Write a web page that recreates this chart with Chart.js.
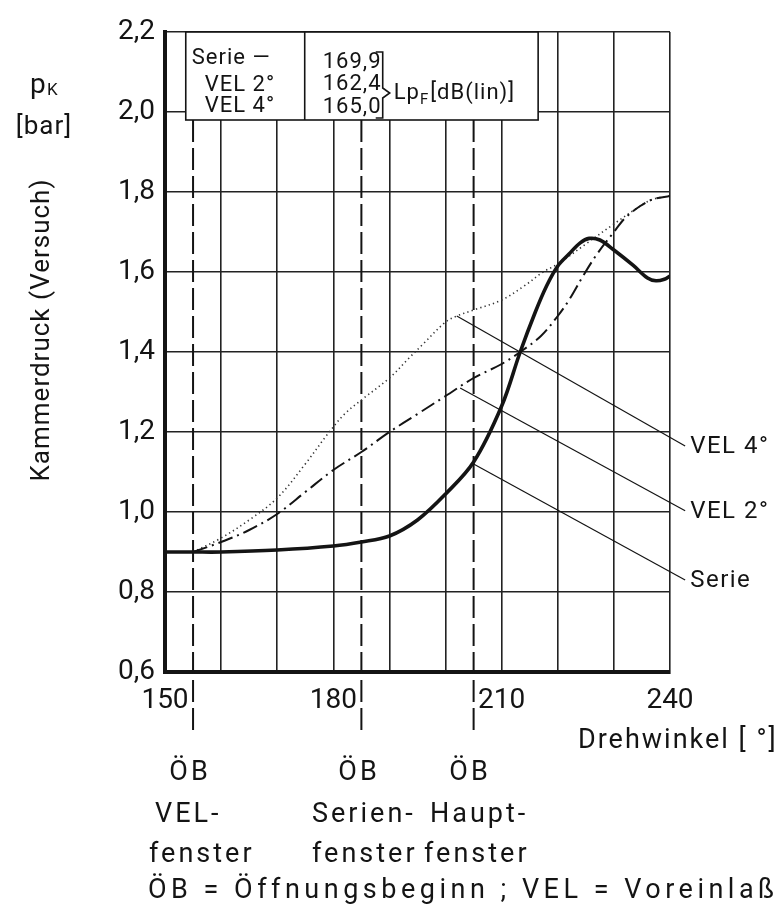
<!DOCTYPE html>
<html><head><meta charset="utf-8">
<script src="https://cdn.jsdelivr.net/npm/chart.js@4"></script>
<style>html,body{margin:0;padding:0;background:#fff;}#wrap{width:784px;height:912px;}</style>
</head><body><div id="wrap"><canvas id="c" width="784" height="912"></canvas></div>
<script>
// ---- data ----
const serieAngles = [150,155,160,170,180,185,190,195,200,205,210,213.3,216,218,220,222,224,225.6,227.5,230,233.4,236,237.5,239,240];
const serieValues = [0.90,0.90,0.90,0.905,0.915,0.925,0.94,0.98,1.045,1.125,1.265,1.40,1.50,1.565,1.615,1.645,1.673,1.684,1.68,1.655,1.617,1.585,1.578,1.582,1.59];
const vel2Angles = [155,160,165,170,175,180,185,190,195,200,205,210,213.3,217,220,222,224.5,227,230,232,234.7,237,240];
const vel2Values = [0.90,0.925,0.955,0.995,1.05,1.105,1.15,1.20,1.245,1.29,1.335,1.37,1.40,1.44,1.49,1.53,1.59,1.645,1.70,1.735,1.765,1.782,1.79];
const vel4Angles = [155,160,165,170,175,179,182,185,190,193.5,196,200,202,205,210,214,217.4,220,225,230,234.7,237,240];
const vel4Values = [0.90,0.935,0.98,1.035,1.12,1.195,1.245,1.28,1.335,1.385,1.42,1.475,1.49,1.505,1.53,1.565,1.60,1.62,1.67,1.72,1.765,1.782,1.79];
const xTickLabels = [150,180,210,240];
const legendNames = ['Serie —','VEL 2°','VEL 4°'];
const legendLevels = ['169,9','162,4','165,0'];
const openingAngles = [155,185,205];
const seriesLabels = ['VEL 4°','VEL 2°','Serie'];
const pointerStarts = [[202,1.49],[202.6,1.31],[205,1.12]];
const pointerEnds = [[242.7,1.165],[242.7,1.003],[242.7,0.83]];

const toPts = (xs, ys) => xs.map((v,i)=>({x:v,y:ys[i]}));
const FONT = 'Roboto';
const INK = '#141414';

const overlay = {
  id:'overlay',
  beforeDatasetsDraw(chart){
    const {ctx, scales:{x,y}} = chart;
    ctx.save();
    // dashed "Öffnungsbeginn" lines
    ctx.strokeStyle = INK; ctx.lineWidth = 2; ctx.setLineDash([22,6]);
    openingAngles.forEach(a=>{
      const px = x.getPixelForValue(a);
      ctx.beginPath(); ctx.moveTo(px, y.getPixelForValue(1.98)); ctx.lineTo(px, y.getPixelForValue(0.447)); ctx.stroke();
    });
    ctx.setLineDash([]);
    // legend box
    const bx0 = x.getPixelForValue(153.7), bx1 = x.getPixelForValue(216.5), bxm = x.getPixelForValue(174.9);
    const by0 = y.getPixelForValue(2.2), by1 = y.getPixelForValue(1.98);
    ctx.fillStyle = '#fff'; ctx.fillRect(bx0, by0, bx1-bx0, by1-by0);
    ctx.lineWidth = 1.6; ctx.strokeRect(bx0, by0, bx1-bx0, by1-by0);
    ctx.beginPath(); ctx.moveTo(bxm, by0); ctx.lineTo(bxm, by1); ctx.stroke();
    ctx.fillStyle = INK; ctx.textBaseline = 'middle'; ctx.textAlign = 'left';
    ctx.font = `22px ${FONT}`; ctx.letterSpacing = '1px';
    const lrows = [26,53,74], lx = [6,19,19];
    legendNames.forEach((t,i)=> ctx.fillText(t, bx0+lx[i], by0+lrows[i]));
    const rrows = [30,52,75];
    legendLevels.forEach((t,i)=> ctx.fillText(t, bxm+18, by0+rrows[i]));
    // brace
    ctx.lineWidth = 1.6;
    ctx.beginPath();
    ctx.moveTo(bxm+71, by0+20); ctx.lineTo(bxm+78, by0+20); ctx.lineTo(bxm+78, by0+56);
    ctx.lineTo(bxm+85, by0+61); ctx.lineTo(bxm+78, by0+66); ctx.lineTo(bxm+78, by0+86); ctx.lineTo(bxm+71, by0+86);
    ctx.stroke();
    let tx = bxm+89;
    ctx.fillText('Lp', tx, by0+61); tx += ctx.measureText('Lp').width;
    ctx.font = `15px ${FONT}`; ctx.fillText('F', tx, by0+68); tx += ctx.measureText('F').width + 1;
    ctx.font = `22px ${FONT}`; ctx.fillText('[dB(lin)]', tx, by0+61);
    ctx.restore();
  },
  afterDatasetsDraw(chart){
    const {ctx, scales:{x,y}} = chart;
    ctx.save();
    ctx.strokeStyle = INK; ctx.lineWidth = 1.2; ctx.fillStyle = INK;
    ctx.font = `24px ${FONT}`; ctx.letterSpacing = '1.5px'; ctx.textBaseline = 'middle'; ctx.textAlign = 'left';
    pointerStarts.forEach((s,i)=>{
      const e = pointerEnds[i];
      const ex = x.getPixelForValue(e[0]), ey = y.getPixelForValue(e[1]);
      ctx.beginPath(); ctx.moveTo(x.getPixelForValue(s[0]), y.getPixelForValue(s[1])); ctx.lineTo(ex, ey); ctx.stroke();
      ctx.fillText(seriesLabels[i], ex+5, ey+1);
    });
    ctx.restore();
  },
  afterDraw(chart){
    const {ctx} = chart;
    ctx.save();
    ctx.fillStyle = INK;
    // y-axis unit
    ctx.textAlign = 'left'; ctx.font = `28px ${FONT}`;
    ctx.textBaseline = 'alphabetic';
    ctx.fillText('p', 30, 93);
    ctx.font = `17px ${FONT}`; ctx.fillText('K', 47, 95);
    ctx.textBaseline = 'middle'; ctx.textAlign = 'center'; ctx.font = `26px ${FONT}`; ctx.letterSpacing = '1px';
    ctx.fillText('[bar]', 44, 127);
    // y-axis title
    ctx.save(); ctx.translate(42, 330); ctx.rotate(-Math.PI/2);
    ctx.font = `26px ${FONT}`; ctx.fillText('Kammerdruck (Versuch)', 0, 0); ctx.restore();
    // x-axis title
    ctx.textAlign = 'left'; ctx.font = `27px ${FONT}`; ctx.letterSpacing = '2px';
    ctx.fillText('Drehwinkel [ °]', 578, 741);
    // bottom notes
    ctx.font = `27px ${FONT}`; ctx.letterSpacing = '3px';
    ctx.textAlign = 'center';
    [190,359,470].forEach(cx=> ctx.fillText('ÖB', cx, 773));
    ctx.textAlign = 'left';
    ctx.fillText('VEL-', 155, 815);
    ctx.fillText('fenster', 149, 855);
    ctx.fillText('Serien-', 312, 815);
    ctx.fillText('Haupt-', 430, 815);
    ctx.fillText('fenster', 312, 855);
    ctx.fillText('fenster', 424, 855);
    ctx.letterSpacing = '4.5px';
    ctx.fillText('ÖB = Öffnungsbeginn ; VEL = Voreinlaß', 148, 891);
    ctx.restore();
  }
};

new Chart(document.getElementById('c'), {
  type:'line',
  data:{ datasets:[
    { label:'Serie', data:toPts(serieAngles, serieValues), borderColor:INK, borderWidth:3.6, pointRadius:0, tension:0.35, fill:false },
    { label:'VEL 2°', data:toPts(vel2Angles, vel2Values), borderColor:INK, borderWidth:2, borderDash:[15,5,2,5], pointRadius:0, tension:0.35, fill:false },
    { label:'VEL 4°', data:toPts(vel4Angles, vel4Values), borderColor:'#333', borderWidth:1.6, borderDash:[1.3,3.2], pointRadius:0, tension:0.35, fill:false }
  ]},
  options:{
    responsive:false, animation:false, devicePixelRatio:1,
    layout:{ padding:{ top:32, right:114, bottom:0, left:0 } },
    plugins:{ legend:{display:false}, tooltip:{enabled:false}, title:{display:false} },
    scales:{
      x:{ type:'linear', min:150, max:240,
        ticks:{ stepSize:10, autoSkip:false, maxRotation:0, padding:12, color:INK, font:{family:FONT, size:28},
          callback:v=> xTickLabels.includes(v) ? String(v) : '' },
        grid:{ color:'#222', lineWidth:1.6, drawTicks:false },
        border:{ color:INK, width:4 },
        afterFit:s=>{ s.height = 240; } },
      y:{ min:0.6, max:2.2,
        ticks:{ stepSize:0.2, padding:10, color:INK, font:{family:FONT, size:28},
          callback:v=> v.toFixed(1).replace('.',',') },
        grid:{ color:'#222', lineWidth:1.6, drawTicks:false },
        border:{ color:INK, width:4 },
        afterFit:s=>{ s.width = 165; } }
    }
  },
  plugins:[overlay]
});
</script></body></html>
